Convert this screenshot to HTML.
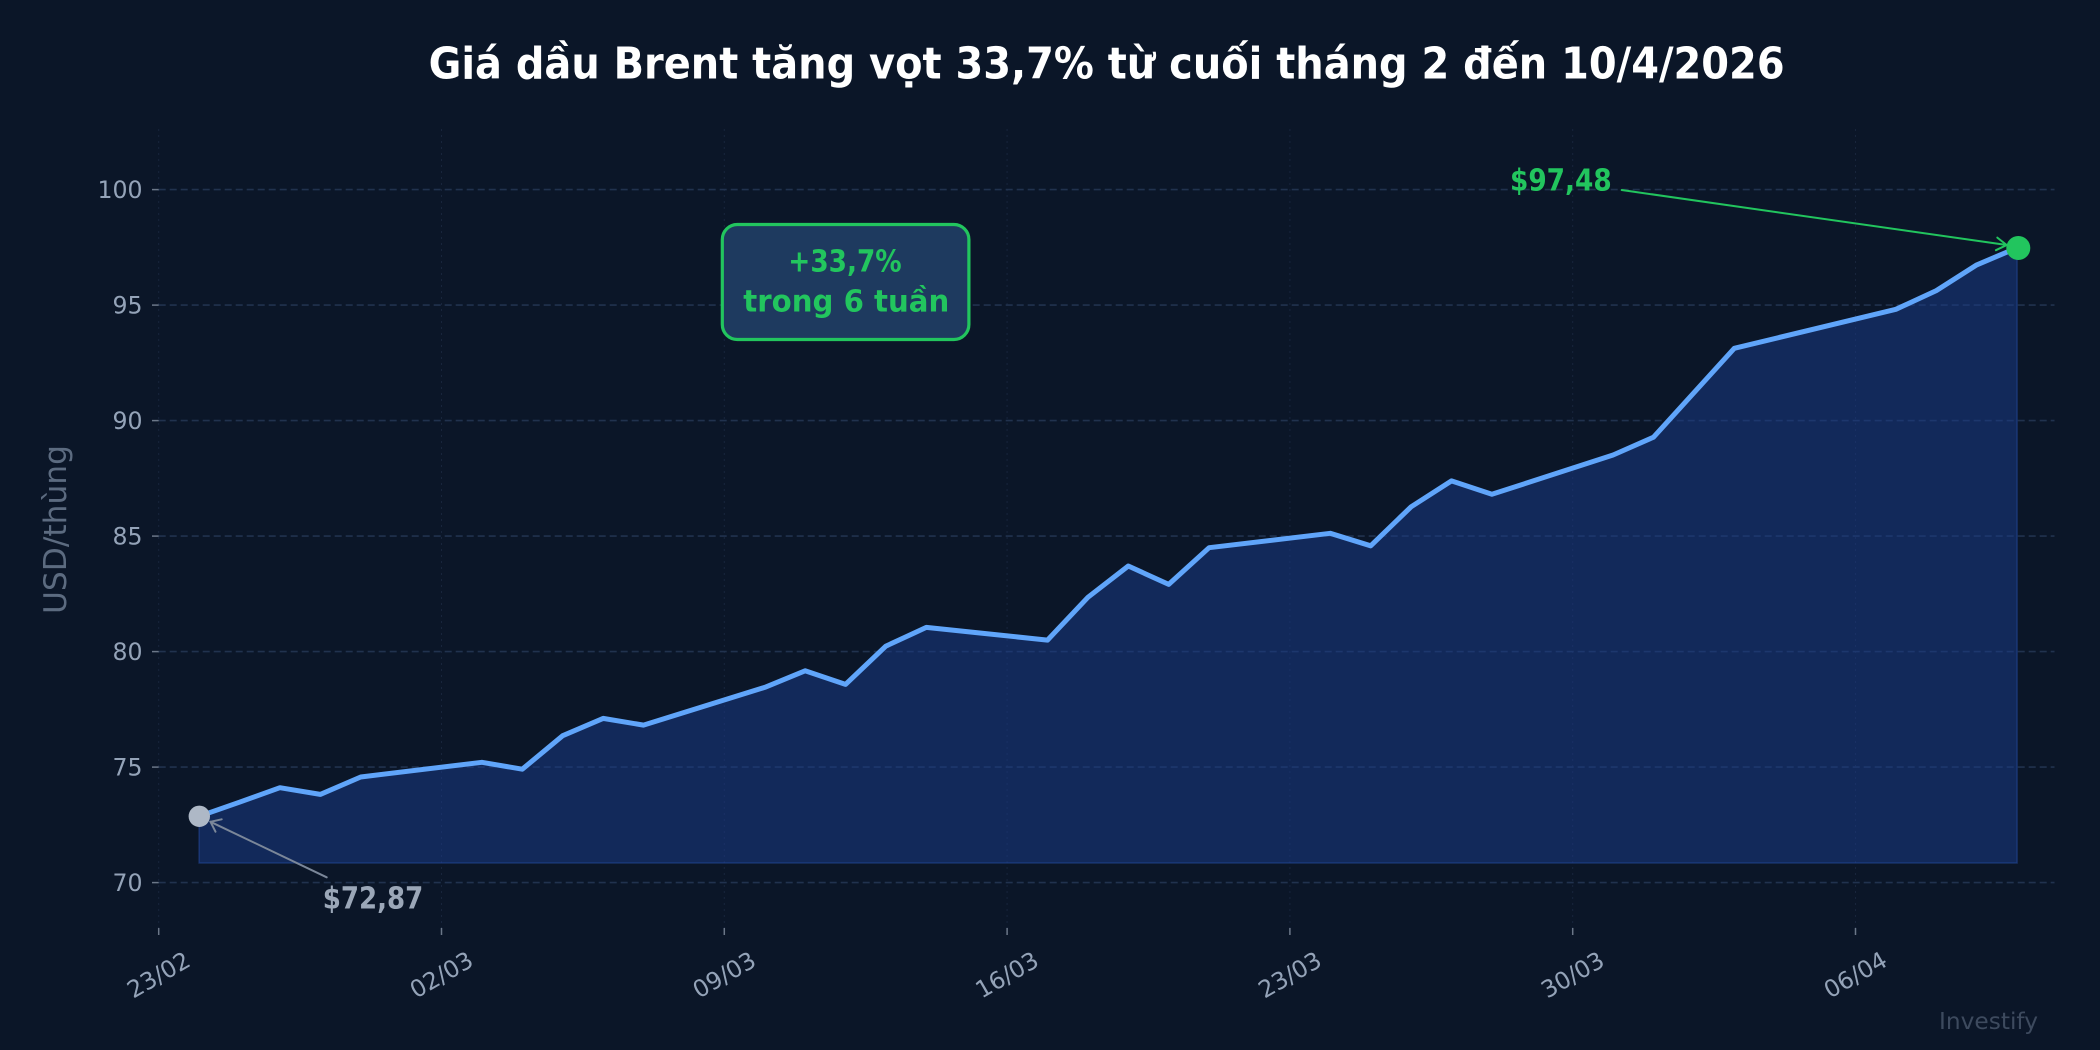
<!DOCTYPE html>
<html>
<head>
<meta charset="utf-8">
<style>
  html, body { margin: 0; padding: 0; background: #0b1628; }
  svg { display: block; }
  text { font-family: "DejaVu Sans", "Liberation Sans", sans-serif; }
</style>
</head>
<body>
<svg width="2100" height="1050" viewBox="0 0 2100 1050" xmlns="http://www.w3.org/2000/svg">
  <rect x="0" y="0" width="2100" height="1050" fill="#0b1628"/>

  <!-- Title -->
  <text x="1106.6" y="78.7" text-anchor="middle" font-size="44" font-weight="bold" fill="#ffffff" textLength="1356" lengthAdjust="spacingAndGlyphs">Giá dầu Brent tăng vọt 33,7% từ cuối tháng 2 đến 10/4/2026</text>

  <!-- Vertical grid (dotted) -->
  <g stroke="#18253c" stroke-width="1" stroke-dasharray="2,4">
    <line x1="158.7" y1="129" x2="158.7" y2="928"/>
    <line x1="441.5" y1="129" x2="441.5" y2="928"/>
    <line x1="724.3" y1="129" x2="724.3" y2="928"/>
    <line x1="1007.1" y1="129" x2="1007.1" y2="928"/>
    <line x1="1289.9" y1="129" x2="1289.9" y2="928"/>
    <line x1="1572.7" y1="129" x2="1572.7" y2="928"/>
    <line x1="1855.5" y1="129" x2="1855.5" y2="928"/>
  </g>

  <!-- Horizontal grid (dashed) -->
  <g stroke="#21324e" stroke-width="1.6" stroke-dasharray="7,4">
    <line x1="158.7" y1="882.6" x2="2054.5" y2="882.6"/>
    <line x1="158.7" y1="767.1" x2="2054.5" y2="767.1"/>
    <line x1="158.7" y1="651.6" x2="2054.5" y2="651.6"/>
    <line x1="158.7" y1="536.1" x2="2054.5" y2="536.1"/>
    <line x1="158.7" y1="420.6" x2="2054.5" y2="420.6"/>
    <line x1="158.7" y1="305.1" x2="2054.5" y2="305.1"/>
    <line x1="158.7" y1="189.6" x2="2054.5" y2="189.6"/>
  </g>

  <!-- Y ticks -->
  <g stroke="#6b7788" stroke-width="1.5">
    <line x1="152" y1="882.6" x2="158.7" y2="882.6"/>
    <line x1="152" y1="767.1" x2="158.7" y2="767.1"/>
    <line x1="152" y1="651.6" x2="158.7" y2="651.6"/>
    <line x1="152" y1="536.1" x2="158.7" y2="536.1"/>
    <line x1="152" y1="420.6" x2="158.7" y2="420.6"/>
    <line x1="152" y1="305.1" x2="158.7" y2="305.1"/>
    <line x1="152" y1="189.6" x2="158.7" y2="189.6"/>
  </g>
  <g font-size="23.6" fill="#94a3b8" text-anchor="end">
    <text x="142.5" y="891.2">70</text>
    <text x="142.5" y="775.7">75</text>
    <text x="142.5" y="660.2">80</text>
    <text x="142.5" y="544.7">85</text>
    <text x="142.5" y="429.2">90</text>
    <text x="142.5" y="313.7">95</text>
    <text x="142.5" y="198.2">100</text>
  </g>

  <!-- Y label -->
  <text x="0" y="0" transform="translate(66 529.5) rotate(-90)" text-anchor="middle" font-size="31" fill="#5c6b80" textLength="169" lengthAdjust="spacingAndGlyphs">USD/thùng</text>

  <!-- X ticks -->
  <g stroke="#6b7788" stroke-width="1.5">
    <line x1="158.7" y1="928" x2="158.7" y2="935"/>
    <line x1="441.5" y1="928" x2="441.5" y2="935"/>
    <line x1="724.3" y1="928" x2="724.3" y2="935"/>
    <line x1="1007.1" y1="928" x2="1007.1" y2="935"/>
    <line x1="1289.9" y1="928" x2="1289.9" y2="935"/>
    <line x1="1572.7" y1="928" x2="1572.7" y2="935"/>
    <line x1="1855.5" y1="928" x2="1855.5" y2="935"/>
  </g>
  <g font-size="23.6" fill="#94a3b8" text-anchor="middle" dominant-baseline="central">
    <text x="158.7" y="975" transform="rotate(-30 158.7 975)">23/02</text>
    <text x="441.5" y="975" transform="rotate(-30 441.5 975)">02/03</text>
    <text x="724.3" y="975" transform="rotate(-30 724.3 975)">09/03</text>
    <text x="1007.1" y="975" transform="rotate(-30 1007.1 975)">16/03</text>
    <text x="1289.9" y="975" transform="rotate(-30 1289.9 975)">23/03</text>
    <text x="1572.7" y="975" transform="rotate(-30 1572.7 975)">30/03</text>
    <text x="1855.5" y="975" transform="rotate(-30 1855.5 975)">06/04</text>
  </g>

  <!-- Area fill -->
  <polygon fill="rgb(25,60,140)" fill-opacity="0.5" stroke="rgb(40,80,170)" stroke-opacity="0.45" stroke-width="1.5"
    points="199.1,863 199.1,816.3 239.5,802.2 279.9,787.7 320.3,794.4 360.7,777.0 481.9,762.3 522.3,769.2 562.7,735.7 603.1,718.4 643.5,725.1 764.7,687.4 805.1,670.8 845.5,684.4 885.9,646.1 926.3,627.4 1047.5,640.1 1087.9,597.3 1128.3,566.0 1168.7,584.4 1209.1,547.7 1330.3,533.3 1370.7,545.8 1411.1,506.8 1451.5,480.9 1491.9,494.3 1613.1,455.0 1653.5,437.2 1734.3,348.3 1895.9,309.3 1936.3,290.6 1976.7,264.9 2017.1,247.8 2017.1,863"/>

  <!-- Line -->
  <polyline fill="none" stroke="#60a5fa" stroke-width="5" stroke-linejoin="round" stroke-linecap="round"
    points="199.1,816.3 239.5,802.2 279.9,787.7 320.3,794.4 360.7,777.0 481.9,762.3 522.3,769.2 562.7,735.7 603.1,718.4 643.5,725.1 764.7,687.4 805.1,670.8 845.5,684.4 885.9,646.1 926.3,627.4 1047.5,640.1 1087.9,597.3 1128.3,566.0 1168.7,584.4 1209.1,547.7 1330.3,533.3 1370.7,545.8 1411.1,506.8 1451.5,480.9 1491.9,494.3 1613.1,455.0 1653.5,437.2 1734.3,348.3 1895.9,309.3 1936.3,290.6 1976.7,264.9 2017.1,247.8"/>

  <!-- Start marker & annotation -->
  <circle cx="199.3" cy="816.3" r="10.7" fill="#aeb8c6"/>
  <g stroke="#7b8799" stroke-width="2" fill="none" stroke-linecap="round">
    <line x1="326.7" y1="877.3" x2="210.5" y2="821.8"/>
    <polyline points="221.7,819.3 210.5,821.8 215.5,831.7"/>
  </g>
  <text x="322.7" y="908.3" font-size="30.5" font-weight="bold" fill="#9ba7b8" textLength="100.6" lengthAdjust="spacingAndGlyphs">$72,87</text>

  <!-- End marker & annotation -->
  <g stroke="#22c55e" stroke-width="2" fill="none" stroke-linecap="round">
    <line x1="1621.7" y1="190" x2="2006.7" y2="245"/>
    <polyline points="1997.3,237.6 2006.7,245 1995.9,250.2"/>
  </g>
  <circle cx="2018.3" cy="248" r="12" fill="#22c55e"/>
  <text x="1510" y="190.7" font-size="30.5" font-weight="bold" fill="#22c55e" textLength="101.7" lengthAdjust="spacingAndGlyphs">$97,48</text>

  <!-- Text box -->
  <rect x="722.3" y="224.5" width="246.6" height="115" rx="15" ry="15" fill="#1e3a5f" stroke="#22c55e" stroke-width="3.2"/>
  <text x="845" y="271.7" text-anchor="middle" font-size="30.5" font-weight="bold" fill="#22c55e" textLength="113.4" lengthAdjust="spacingAndGlyphs">+33,7%</text>
  <text x="846.3" y="311.5" text-anchor="middle" font-size="30.5" font-weight="bold" fill="#22c55e" textLength="206" lengthAdjust="spacingAndGlyphs">trong 6 tuần</text>

  <!-- Watermark -->
  <text x="2038" y="1029" text-anchor="end" font-size="23.2" fill="#3d4a5e" textLength="99" lengthAdjust="spacingAndGlyphs">Investify</text>
</svg>
</body>
</html>
